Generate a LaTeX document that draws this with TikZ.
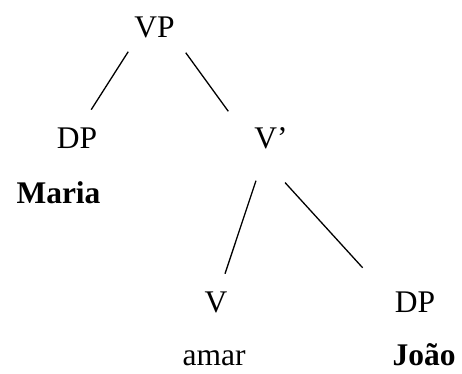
\documentclass[tikz,border=0pt]{standalone}
\usepackage{fontspec}
\setmainfont{Liberation Serif}

\begin{document}
\begin{tikzpicture}[
    x=1pt, y=-1pt,
    cat/.style={inner sep=0pt, anchor=base, font=\fontsize{31.5}{36}\selectfont},
    argument/.style={cat, font=\fontsize{31.5}{36}\selectfont\bfseries},
    branch/.style={line width=1.3pt}
]
\useasboundingbox (0,0) rectangle (462,373);
\node[cat] (vp) at (154.5,37) {VP};
\node[cat] (dpa) at (77,148) {DP};
\node[cat] (vbar) at (271,148) {V'};
\node[argument] (maria) at (58.5,203) {Maria};
\node[cat] (v) at (216,312) {V};
\node[cat] (dpb) at (415,312) {DP};
\node[cat] (amar) at (214,365) {amar};
\node[argument] (joao) at (424,365) {João};

\draw[branch, shorten <=16.6pt, shorten >=20.8pt]
    ([xshift=3pt]vp.south west) -- ([xshift=-17.3pt]dpa.north east);
\draw[branch, shorten <=18.6pt, shorten >=19.2pt]
    (vp.south east) -- ([xshift=-14.6pt]vbar.north west);
\draw[branch, shorten <=33.7pt, shorten >=18.4pt]
    ([xshift=-4.4pt]vbar.south) -- ([xshift=3.2pt]v.north);
\draw[branch, shorten <=45.9pt, shorten >=31.7pt]
    (vbar.south west) -- ([xshift=-10.7pt]dpb.north west);
\end{tikzpicture}
\end{document}
